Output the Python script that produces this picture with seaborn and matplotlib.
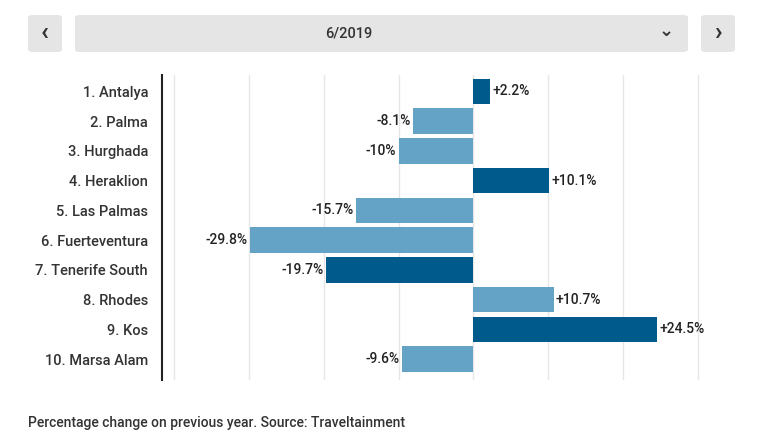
import matplotlib
matplotlib.use("Agg")
import matplotlib.pyplot as plt
from matplotlib.patches import FancyBboxPatch
import seaborn as sns
import pandas as pd

airports = ["1. Antalya", "2. Palma", "3. Hurghada", "4. Heraklion", "5. Las Palmas",
            "6. Fuerteventura", "7. Tenerife South", "8. Rhodes", "9. Kos", "10. Marsa Alam"]
changes = [2.2, -8.1, -10, 10.1, -15.7, -29.8, -19.7, 10.7, 24.5, -9.6]
labels = ["+2.2%", "-8.1%", "-10%", "+10.1%", "-15.7%", "-29.8%", "-19.7%", "+10.7%", "+24.5%", "-9.6%"]
highlight = [True, False, False, True, False, False, True, False, True, False]

DARK, LIGHT = "#005a8c", "#64a2c6"
df = pd.DataFrame({"airport": airports, "change": changes})
palette = {a: (DARK if h else LIGHT) for a, h in zip(airports, highlight)}

sns.set_style("white")
plt.rcParams["font.family"] = ["Roboto", "DejaVu Sans"]

fig = plt.figure(figsize=(7.6, 4.45), dpi=100)
ax = fig.add_axes([162/760, 1-380/445, (740-162)/760, (380-75)/445])
sns.barplot(data=df, x="change", y="airport", hue="airport", palette=palette,
            legend=False, ax=ax, width=0.86, saturation=1, linewidth=0)
ax.set_xlim(-41.6, 35.6)
ax.set_ylim(9.7, -0.55)
for x in range(-40, 40, 10):
    ax.axvline(x, color="#e6e6e6", lw=1, zorder=0)
for i, (v, t) in enumerate(zip(changes, labels)):
    ax.text(v + (0.3 if v > 0 else -0.3), i, t, ha="left" if v > 0 else "right",
            va="center", fontsize=10, color="#222222", fontweight="medium")
for s in ["top", "right", "bottom"]:
    ax.spines[s].set_visible(False)
ax.spines["left"].set_color("#222222")
ax.spines["left"].set_linewidth(1.5)
ax.set_xticks([])
ax.set_xlabel("")
ax.set_ylabel("")
ax.tick_params(axis="y", length=0, labelsize=10.5, pad=10, labelcolor="#333333")
for lab in ax.get_yticklabels():
    lab.set_fontweight("medium")

def box(x0, y0, w, h):
    fig.patches.append(FancyBboxPatch((x0/760, 1-(y0+h)/445), w/760, h/445,
                       boxstyle="round,pad=0,rounding_size=0.006", transform=fig.transFigure,
                       facecolor="#e5e5e5", edgecolor="none"))
box(28, 15, 34, 37)
box(75, 15, 613, 37)
box(701, 15, 34, 37)
fig.text(45/760, 1-33/445, "‹", ha="center", va="center", fontsize=18, color="#333333", fontweight="bold")
fig.text(718/760, 1-33/445, "›", ha="center", va="center", fontsize=18, color="#333333", fontweight="bold")
fig.text(349/760, 1-33/445, "6/2019", ha="center", va="center", fontsize=10.5, color="#333333", fontweight="medium")
fig.text(666/760, 1-31/445, "⌄", ha="center", va="center", fontsize=13, color="#333333", family="DejaVu Sans", fontweight="bold")
fig.text(28/760, 1-423/445, "Percentage change on previous year. Source: Traveltainment",
         ha="left", va="center", fontsize=10, color="#333333", fontweight="medium")
fig.savefig("out.png", dpi=100)
